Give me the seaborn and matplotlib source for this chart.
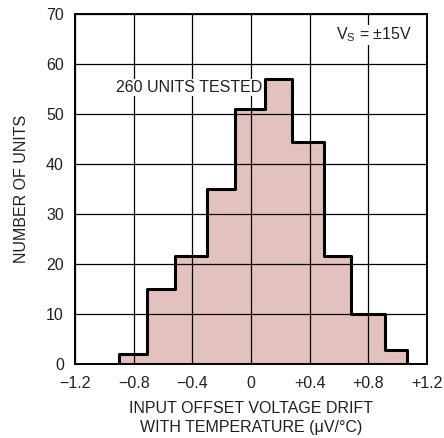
import matplotlib
matplotlib.use('Agg')
import numpy as np
import pandas as pd
import matplotlib.pyplot as plt
import seaborn as sns

# histogram bin edges (uV/C) and unit counts
bin_edges = [-0.90, -0.71, -0.52, -0.30, -0.11, 0.095, 0.28, 0.50, 0.68, 0.91, 1.065]
unit_counts = [2, 15, 21.5, 35, 51, 57, 44.5, 21.5, 10, 2.7]
x_ticks = [-1.2, -0.8, -0.4, 0, 0.4, 0.8, 1.2]
x_tick_labels = ['\u22121.2', '\u22120.8', '\u22120.4', '0', '+0.4', '+0.8', '+1.2']
y_ticks = [0, 10, 20, 30, 40, 50, 60, 70]

FILL = '#e3c1bc'
FS = 11.5
INK = '#231f20'

sns.set_style('white')
plt.rcParams['font.family'] = ['Liberation Sans', 'DejaVu Sans']
plt.rcParams['mathtext.fontset'] = 'custom'
plt.rcParams['mathtext.rm'] = 'Liberation Sans'
plt.rcParams['text.color'] = INK
plt.rcParams['axes.labelcolor'] = INK

edges = np.array(bin_edges)
df = pd.DataFrame({'drift': (edges[:-1] + edges[1:]) / 2, 'units': unit_counts})

fig = plt.figure(figsize=(4.44, 4.38), dpi=100)
ax = fig.add_axes([0.169, 0.169, 0.793, 0.799])

# fill below the grid, outline on top
sns.histplot(data=df, x='drift', weights='units', bins=bin_edges, element='step',
             fill=True, color=FILL, alpha=1, linewidth=0, ax=ax, zorder=1)
sns.histplot(data=df, x='drift', weights='units', bins=bin_edges, element='step',
             fill=True, color='black', facecolor='none', edgecolor='black',
             linewidth=2.2, ax=ax, zorder=3)

ax.set_xlim(-1.2, 1.2)
ax.set_ylim(0, 70)
ax.set_xticks(x_ticks)
ax.set_xticklabels(x_tick_labels)
ax.set_yticks(y_ticks)
ax.tick_params(axis='x', length=0, pad=9, labelsize=FS, colors=INK)
ax.tick_params(axis='y', length=0, pad=8, labelsize=FS, colors=INK)
ax.set_axisbelow(False)
ax.grid(True, color='black', linewidth=0.9)
for s in ax.spines.values():
    s.set_color('black')
    s.set_linewidth(1.4)
    s.set_zorder(4)

ax.set_xlabel('INPUT OFFSET VOLTAGE DRIFT\nWITH TEMPERATURE (\u03bcV/\u00b0C)', fontsize=FS,
              linespacing=1.3, labelpad=7)
ax.set_ylabel('NUMBER OF UNITS', fontsize=FS, labelpad=12)

ax.text(-0.92, 55.3, '260 UNITS TESTED', fontsize=FS, ha='left', va='center',
        zorder=5, bbox=dict(facecolor='white', edgecolor='none', pad=0.5))
ax.text(1.1, 65.8, 'V$_\\mathregular{S}$ = \u00b115V', fontsize=FS, ha='right', va='center',
        zorder=5, bbox=dict(facecolor='white', edgecolor='none', pad=0.5))

fig.savefig('out.png', dpi=100)
